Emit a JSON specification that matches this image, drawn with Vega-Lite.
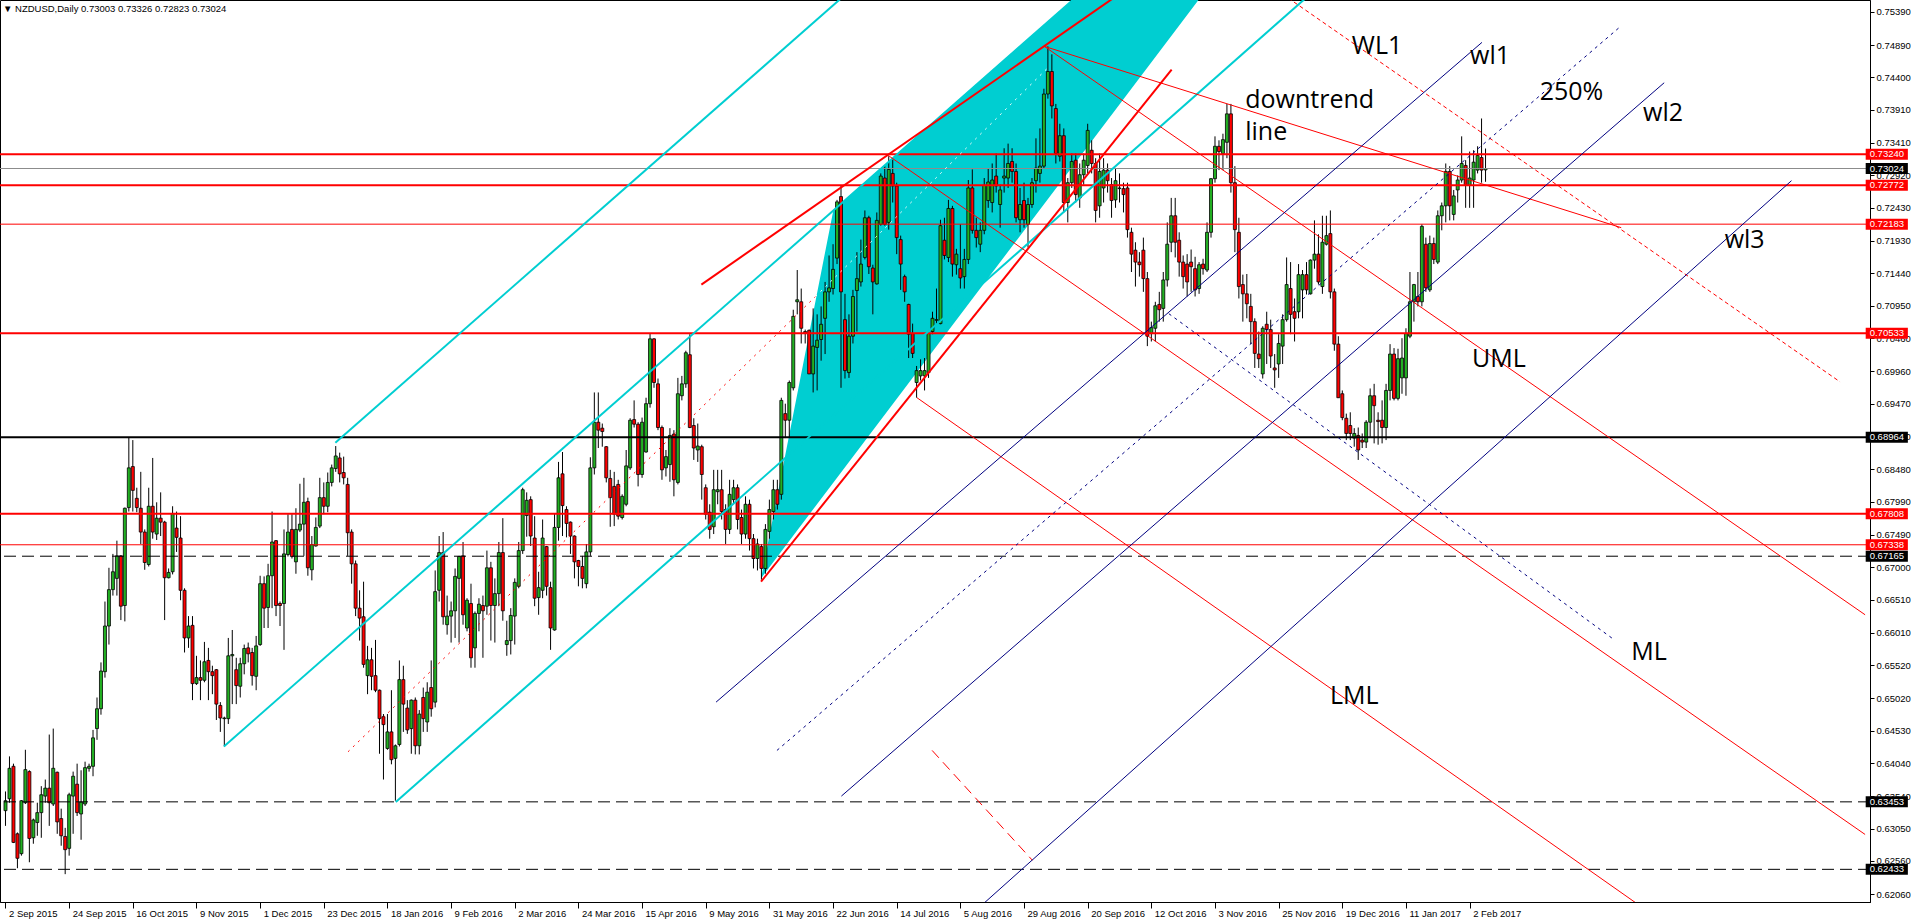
{
  "$schema": "https://vega.github.io/schema/vega-lite/v6.json",
  "width": 1870,
  "height": 902,
  "autosize": {"type": "none"},
  "padding": {"left": 0, "top": 0, "right": 45, "bottom": 21},
  "background": "white",
  "title": {"text": "\u25bc NZDUSD,Daily  0.73003 0.73326 0.72823 0.73024", "anchor": "start", "orient": "top", "frame": "group", "offset": -13, "dx": 3, "fontSize": 9.5, "font": "Liberation Sans", "fontWeight": "normal", "color": "black"},
  "config": {
    "view": {"stroke": "black", "strokeWidth": 1},
    "axis": {"labelOverlap": false, "labelFlush": false, "grid": false, "labelFont": "Liberation Sans", "labelFontSize": 9.5, "labelColor": "black", "tickColor": "black", "domainColor": "black"}
  },
  "datasets": {
    "bars": [
      {"i":0,"o":0.6332,"h":0.6361,"l":0.6309,"c":0.6347},{"i":1,"o":0.6350,"h":0.6414,"l":0.6344,"c":0.6396},{"i":2,"o":0.6399,"h":0.6403,"l":0.6283,"c":0.6284},{"i":3,"o":0.6297,"h":0.6299,"l":0.6245,"c":0.6260},{"i":4,"o":0.6267,"h":0.6348,"l":0.6264,"c":0.6347},{"i":5,"o":0.6344,"h":0.6424,"l":0.6342,"c":0.6394},{"i":6,"o":0.6391,"h":0.6393,"l":0.6254,"c":0.6290},{"i":7,"o":0.6291,"h":0.6320,"l":0.6282,"c":0.6318},{"i":8,"o":0.6314,"h":0.6344,"l":0.6294,"c":0.6329},{"i":9,"o":0.6329,"h":0.6369,"l":0.6291,"c":0.6356},
      {"i":10,"o":0.6354,"h":0.6379,"l":0.6344,"c":0.6366},{"i":11,"o":0.6366,"h":0.6447,"l":0.6309,"c":0.6344},{"i":12,"o":0.6342,"h":0.6456,"l":0.6339,"c":0.6396},{"i":13,"o":0.6390,"h":0.6391,"l":0.6297,"c":0.6315},{"i":14,"o":0.6320,"h":0.6335,"l":0.6279,"c":0.6294},{"i":15,"o":0.6293,"h":0.6306,"l":0.6236,"c":0.6273},{"i":16,"o":0.6275,"h":0.6359,"l":0.6264,"c":0.6356},{"i":17,"o":0.6354,"h":0.6391,"l":0.6297,"c":0.6384},{"i":18,"o":0.6372,"h":0.6403,"l":0.6324,"c":0.6329},{"i":19,"o":0.6327,"h":0.6393,"l":0.6288,"c":0.6345},
      {"i":20,"o":0.6342,"h":0.6406,"l":0.6339,"c":0.6397},{"i":21,"o":0.6396,"h":0.6403,"l":0.6391,"c":0.6399},{"i":22,"o":0.6399,"h":0.6454,"l":0.6384,"c":0.6442},{"i":23,"o":0.6456,"h":0.6503,"l":0.6439,"c":0.6486},{"i":24,"o":0.6486,"h":0.6556,"l":0.6477,"c":0.6543},{"i":25,"o":0.6542,"h":0.6648,"l":0.6533,"c":0.6611},{"i":26,"o":0.6611,"h":0.6699,"l":0.6583,"c":0.6666},{"i":27,"o":0.6666,"h":0.6720,"l":0.6657,"c":0.6693},{"i":28,"o":0.6683,"h":0.6740,"l":0.6657,"c":0.6717},{"i":29,"o":0.6717,"h":0.6718,"l":0.6620,"c":0.6641},
      {"i":30,"o":0.6642,"h":0.6790,"l":0.6618,"c":0.6789},{"i":31,"o":0.6790,"h":0.6896,"l":0.6784,"c":0.6850},{"i":32,"o":0.6852,"h":0.6892,"l":0.6784,"c":0.6816},{"i":33,"o":0.6804,"h":0.6820,"l":0.6783,"c":0.6790},{"i":34,"o":0.6789,"h":0.6844,"l":0.6735,"c":0.6753},{"i":35,"o":0.6753,"h":0.6757,"l":0.6696,"c":0.6707},{"i":36,"o":0.6704,"h":0.6820,"l":0.6701,"c":0.6792},{"i":37,"o":0.6792,"h":0.6865,"l":0.6743,"c":0.6753},{"i":38,"o":0.6750,"h":0.6798,"l":0.6741,"c":0.6774},{"i":39,"o":0.6774,"h":0.6813,"l":0.6747,"c":0.6768},
      {"i":40,"o":0.6768,"h":0.6770,"l":0.6620,"c":0.6684},{"i":41,"o":0.6684,"h":0.6698,"l":0.6683,"c":0.6692},{"i":42,"o":0.6693,"h":0.6792,"l":0.6689,"c":0.6781},{"i":43,"o":0.6759,"h":0.6784,"l":0.6723,"c":0.6745},{"i":44,"o":0.6744,"h":0.6777,"l":0.6650,"c":0.6665},{"i":45,"o":0.6665,"h":0.6668,"l":0.6571,"c":0.6593},{"i":46,"o":0.6593,"h":0.6626,"l":0.6578,"c":0.6611},{"i":47,"o":0.6612,"h":0.6626,"l":0.6499,"c":0.6524},{"i":48,"o":0.6524,"h":0.6566,"l":0.6522,"c":0.6533},{"i":49,"o":0.6533,"h":0.6559,"l":0.6499,"c":0.6529},
      {"i":50,"o":0.6529,"h":0.6587,"l":0.6526,"c":0.6557},{"i":51,"o":0.6559,"h":0.6578,"l":0.6499,"c":0.6542},{"i":52,"o":0.6542,"h":0.6551,"l":0.6508,"c":0.6536},{"i":53,"o":0.6545,"h":0.6546,"l":0.6469,"c":0.6493},{"i":54,"o":0.6491,"h":0.6496,"l":0.6451,"c":0.6472},{"i":55,"o":0.6471,"h":0.6474,"l":0.6429,"c":0.6472},{"i":56,"o":0.6471,"h":0.6593,"l":0.6463,"c":0.6566},{"i":57,"o":0.6566,"h":0.6605,"l":0.6493,"c":0.6568},{"i":58,"o":0.6545,"h":0.6563,"l":0.6493,"c":0.6521},{"i":59,"o":0.6520,"h":0.6563,"l":0.6503,"c":0.6554},
      {"i":60,"o":0.6554,"h":0.6583,"l":0.6538,"c":0.6577},{"i":61,"o":0.6578,"h":0.6586,"l":0.6556,"c":0.6569},{"i":62,"o":0.6571,"h":0.6578,"l":0.6521,"c":0.6536},{"i":63,"o":0.6535,"h":0.6596,"l":0.6514,"c":0.6581},{"i":64,"o":0.6583,"h":0.6687,"l":0.6581,"c":0.6675},{"i":65,"o":0.6675,"h":0.6686,"l":0.6608,"c":0.6638},{"i":66,"o":0.6639,"h":0.6705,"l":0.6608,"c":0.6687},{"i":67,"o":0.6687,"h":0.6784,"l":0.6638,"c":0.6738},{"i":68,"o":0.6740,"h":0.6741,"l":0.6626,"c":0.6642},{"i":69,"o":0.6645,"h":0.6648,"l":0.6611,"c":0.6642},
      {"i":70,"o":0.6645,"h":0.6757,"l":0.6575,"c":0.6720},{"i":71,"o":0.6719,"h":0.6780,"l":0.6716,"c":0.6753},{"i":72,"o":0.6757,"h":0.6780,"l":0.6713,"c":0.6716},{"i":73,"o":0.6708,"h":0.6789,"l":0.6690,"c":0.6757},{"i":74,"o":0.6756,"h":0.6826,"l":0.6753,"c":0.6765},{"i":75,"o":0.6765,"h":0.6835,"l":0.6717,"c":0.6798},{"i":76,"o":0.6799,"h":0.6805,"l":0.6687,"c":0.6699},{"i":77,"o":0.6696,"h":0.6747,"l":0.6680,"c":0.6734},{"i":78,"o":0.6732,"h":0.6775,"l":0.6731,"c":0.6760},{"i":79,"o":0.6762,"h":0.6835,"l":0.6759,"c":0.6805},
      {"i":80,"o":0.6805,"h":0.6828,"l":0.6780,"c":0.6792},{"i":81,"o":0.6792,"h":0.6843,"l":0.6783,"c":0.6828},{"i":82,"o":0.6828,"h":0.6855,"l":0.6822,"c":0.6850},{"i":83,"o":0.6849,"h":0.6883,"l":0.6844,"c":0.6868},{"i":84,"o":0.6865,"h":0.6873,"l":0.6828,"c":0.6841},{"i":85,"o":0.6843,"h":0.6867,"l":0.6825,"c":0.6835},{"i":86,"o":0.6825,"h":0.6835,"l":0.6717,"c":0.6752},{"i":87,"o":0.6753,"h":0.6757,"l":0.6675,"c":0.6705},{"i":88,"o":0.6705,"h":0.6710,"l":0.6626,"c":0.6638},{"i":89,"o":0.6638,"h":0.6665,"l":0.6589,"c":0.6623},
      {"i":90,"o":0.6625,"h":0.6678,"l":0.6548,"c":0.6553},{"i":91,"o":0.6536,"h":0.6581,"l":0.6508,"c":0.6560},{"i":92,"o":0.6560,"h":0.6578,"l":0.6514,"c":0.6535},{"i":93,"o":0.6536,"h":0.6590,"l":0.6511,"c":0.6514},{"i":94,"o":0.6514,"h":0.6515,"l":0.6418,"c":0.6471},{"i":95,"o":0.6474,"h":0.6478,"l":0.6379,"c":0.6462},{"i":96,"o":0.6426,"h":0.6478,"l":0.6424,"c":0.6451},{"i":97,"o":0.6451,"h":0.6514,"l":0.6402,"c":0.6409},{"i":98,"o":0.6411,"h":0.6432,"l":0.6347,"c":0.6430},{"i":99,"o":0.6432,"h":0.6559,"l":0.6429,"c":0.6530},
      {"i":100,"o":0.6530,"h":0.6551,"l":0.6451,"c":0.6493},{"i":101,"o":0.6487,"h":0.6499,"l":0.6448,"c":0.6454},{"i":102,"o":0.6456,"h":0.6500,"l":0.6418,"c":0.6499},{"i":103,"o":0.6499,"h":0.6503,"l":0.6417,"c":0.6430},{"i":104,"o":0.6430,"h":0.6484,"l":0.6417,"c":0.6478},{"i":105,"o":0.6503,"h":0.6518,"l":0.6451,"c":0.6471},{"i":106,"o":0.6466,"h":0.6526,"l":0.6451,"c":0.6511},{"i":107,"o":0.6518,"h":0.6559,"l":0.6474,"c":0.6486},{"i":108,"o":0.6496,"h":0.6695,"l":0.6488,"c":0.6663},{"i":109,"o":0.6665,"h":0.6747,"l":0.6648,"c":0.6722},
      {"i":110,"o":0.6722,"h":0.6753,"l":0.6613,"c":0.6625},{"i":111,"o":0.6613,"h":0.6657,"l":0.6598,"c":0.6626},{"i":112,"o":0.6626,"h":0.6648,"l":0.6586,"c":0.6634},{"i":113,"o":0.6634,"h":0.6698,"l":0.6593,"c":0.6686},{"i":114,"o":0.6683,"h":0.6717,"l":0.6586,"c":0.6716},{"i":115,"o":0.6717,"h":0.6738,"l":0.6613,"c":0.6628},{"i":116,"o":0.6608,"h":0.6653,"l":0.6603,"c":0.6650},{"i":117,"o":0.6645,"h":0.6675,"l":0.6548,"c":0.6563},{"i":118,"o":0.6578,"h":0.6633,"l":0.6548,"c":0.6630},{"i":119,"o":0.6630,"h":0.6653,"l":0.6603,"c":0.6644},
      {"i":120,"o":0.6642,"h":0.6657,"l":0.6563,"c":0.6634},{"i":121,"o":0.6641,"h":0.6725,"l":0.6628,"c":0.6699},{"i":122,"o":0.6699,"h":0.6708,"l":0.6589,"c":0.6642},{"i":123,"o":0.6642,"h":0.6683,"l":0.6586,"c":0.6660},{"i":124,"o":0.6660,"h":0.6738,"l":0.6641,"c":0.6722},{"i":125,"o":0.6722,"h":0.6774,"l":0.6619,"c":0.6634},{"i":126,"o":0.6583,"h":0.6619,"l":0.6566,"c":0.6589},{"i":127,"o":0.6589,"h":0.6638,"l":0.6568,"c":0.6627},{"i":128,"o":0.6626,"h":0.6683,"l":0.6583,"c":0.6677},{"i":129,"o":0.6671,"h":0.6738,"l":0.6668,"c":0.6725},
      {"i":130,"o":0.6725,"h":0.6820,"l":0.6720,"c":0.6817},{"i":131,"o":0.6778,"h":0.6813,"l":0.6746,"c":0.6801},{"i":132,"o":0.6802,"h":0.6807,"l":0.6732,"c":0.6747},{"i":133,"o":0.6744,"h":0.6777,"l":0.6641,"c":0.6653},{"i":134,"o":0.6654,"h":0.6693,"l":0.6628,"c":0.6669},{"i":135,"o":0.6665,"h":0.6772,"l":0.6653,"c":0.6744},{"i":136,"o":0.6731,"h":0.6732,"l":0.6657,"c":0.6671},{"i":137,"o":0.6669,"h":0.6678,"l":0.6575,"c":0.6608},{"i":138,"o":0.6605,"h":0.6781,"l":0.6604,"c":0.6760},{"i":139,"o":0.6760,"h":0.6859,"l":0.6740,"c":0.6835},
      {"i":140,"o":0.6841,"h":0.6874,"l":0.6747,"c":0.6793},{"i":141,"o":0.6787,"h":0.6792,"l":0.6745,"c":0.6766},{"i":142,"o":0.6768,"h":0.6769,"l":0.6720,"c":0.6747},{"i":143,"o":0.6747,"h":0.6748,"l":0.6683,"c":0.6708},{"i":144,"o":0.6710,"h":0.6711,"l":0.6671,"c":0.6701},{"i":145,"o":0.6701,"h":0.6717,"l":0.6668,"c":0.6683},{"i":146,"o":0.6675,"h":0.6735,"l":0.6668,"c":0.6723},{"i":147,"o":0.6723,"h":0.6866,"l":0.6717,"c":0.6850},{"i":148,"o":0.6850,"h":0.6964,"l":0.6840,"c":0.6919},{"i":149,"o":0.6919,"h":0.6964,"l":0.6880,"c":0.6907},
      {"i":150,"o":0.6910,"h":0.6917,"l":0.6882,"c":0.6905},{"i":151,"o":0.6882,"h":0.6883,"l":0.6828,"c":0.6835},{"i":152,"o":0.6834,"h":0.6847,"l":0.6761,"c":0.6805},{"i":153,"o":0.6822,"h":0.6844,"l":0.6762,"c":0.6780},{"i":154,"o":0.6825,"h":0.6832,"l":0.6772,"c":0.6777},{"i":155,"o":0.6775,"h":0.6810,"l":0.6772,"c":0.6807},{"i":156,"o":0.6795,"h":0.6877,"l":0.6792,"c":0.6853},{"i":157,"o":0.6850,"h":0.6925,"l":0.6847,"c":0.6922},{"i":158,"o":0.6923,"h":0.6952,"l":0.6911,"c":0.6916},{"i":159,"o":0.6916,"h":0.6919,"l":0.6822,"c":0.6840},
      {"i":160,"o":0.6840,"h":0.6926,"l":0.6835,"c":0.6919},{"i":161,"o":0.6874,"h":0.6956,"l":0.6873,"c":0.6947},{"i":162,"o":0.6947,"h":0.7053,"l":0.6941,"c":0.7045},{"i":163,"o":0.7045,"h":0.7046,"l":0.6971,"c":0.6979},{"i":164,"o":0.6977,"h":0.6985,"l":0.6907,"c":0.6911},{"i":165,"o":0.6911,"h":0.6914,"l":0.6832,"c":0.6847},{"i":166,"o":0.6850,"h":0.6877,"l":0.6837,"c":0.6867},{"i":167,"o":0.6855,"h":0.6910,"l":0.6829,"c":0.6899},{"i":168,"o":0.6901,"h":0.6907,"l":0.6807,"c":0.6832},{"i":169,"o":0.6828,"h":0.6986,"l":0.6825,"c":0.6962},
      {"i":170,"o":0.6959,"h":0.6989,"l":0.6952,"c":0.6977},{"i":171,"o":0.6977,"h":0.7027,"l":0.6971,"c":0.7024},{"i":172,"o":0.7021,"h":0.7052,"l":0.6910,"c":0.6911},{"i":173,"o":0.6914,"h":0.6925,"l":0.6862,"c":0.6880},{"i":174,"o":0.6877,"h":0.6917,"l":0.6859,"c":0.6883},{"i":175,"o":0.6882,"h":0.6885,"l":0.6802,"c":0.6840},{"i":176,"o":0.6820,"h":0.6825,"l":0.6772,"c":0.6780},{"i":177,"o":0.6783,"h":0.6795,"l":0.6743,"c":0.6757},{"i":178,"o":0.6761,"h":0.6847,"l":0.6750,"c":0.6817},{"i":179,"o":0.6814,"h":0.6847,"l":0.6795,"c":0.6817},
      {"i":180,"o":0.6817,"h":0.6847,"l":0.6772,"c":0.6784},{"i":181,"o":0.6787,"h":0.6795,"l":0.6735,"c":0.6757},{"i":182,"o":0.6757,"h":0.6832,"l":0.6750,"c":0.6810},{"i":183,"o":0.6802,"h":0.6832,"l":0.6795,"c":0.6820},{"i":184,"o":0.6820,"h":0.6825,"l":0.6757,"c":0.6772},{"i":185,"o":0.6775,"h":0.6787,"l":0.6735,"c":0.6750},{"i":186,"o":0.6750,"h":0.6807,"l":0.6743,"c":0.6795},{"i":187,"o":0.6795,"h":0.6802,"l":0.6725,"c":0.6743},{"i":188,"o":0.6743,"h":0.6750,"l":0.6698,"c":0.6713},{"i":189,"o":0.6713,"h":0.6743,"l":0.6695,"c":0.6735},
      {"i":190,"o":0.6731,"h":0.6735,"l":0.6681,"c":0.6698},{"i":191,"o":0.6698,"h":0.6765,"l":0.6690,"c":0.6757},{"i":192,"o":0.6754,"h":0.6802,"l":0.6743,"c":0.6787},{"i":193,"o":0.6784,"h":0.6832,"l":0.6772,"c":0.6817},{"i":194,"o":0.6817,"h":0.6832,"l":0.6787,"c":0.6795},{"i":195,"o":0.6810,"h":0.6956,"l":0.6802,"c":0.6952},{"i":196,"o":0.6932,"h":0.6947,"l":0.6895,"c":0.6922},{"i":197,"o":0.6922,"h":0.6982,"l":0.6895,"c":0.6979},{"i":198,"o":0.6971,"h":0.7089,"l":0.6967,"c":0.7079},{"i":199,"o":0.7101,"h":0.7149,"l":0.7082,"c":0.7104},
      {"i":200,"o":0.7101,"h":0.7121,"l":0.7038,"c":0.7061},{"i":201,"o":0.7056,"h":0.7059,"l":0.7038,"c":0.7053},{"i":202,"o":0.7058,"h":0.7059,"l":0.6992,"c":0.6992},{"i":203,"o":0.6992,"h":0.7091,"l":0.6964,"c":0.7034},{"i":204,"o":0.7032,"h":0.7082,"l":0.6967,"c":0.7043},{"i":205,"o":0.7044,"h":0.7094,"l":0.7012,"c":0.7067},{"i":206,"o":0.7076,"h":0.7131,"l":0.7022,"c":0.7116},{"i":207,"o":0.7116,"h":0.7171,"l":0.7101,"c":0.7122},{"i":208,"o":0.7121,"h":0.7188,"l":0.7112,"c":0.7150},{"i":209,"o":0.7167,"h":0.7255,"l":0.7158,"c":0.7252},
      {"i":210,"o":0.7260,"h":0.7276,"l":0.6971,"c":0.7116},{"i":211,"o":0.7074,"h":0.7113,"l":0.6985,"c":0.6997},{"i":212,"o":0.6994,"h":0.7082,"l":0.6986,"c":0.7049},{"i":213,"o":0.7049,"h":0.7119,"l":0.7038,"c":0.7109},{"i":214,"o":0.7118,"h":0.7176,"l":0.7056,"c":0.7136},{"i":215,"o":0.7131,"h":0.7195,"l":0.7124,"c":0.7158},{"i":216,"o":0.7168,"h":0.7239,"l":0.7165,"c":0.7228},{"i":217,"o":0.7228,"h":0.7231,"l":0.7143,"c":0.7154},{"i":218,"o":0.7152,"h":0.7157,"l":0.7082,"c":0.7131},{"i":219,"o":0.7128,"h":0.7236,"l":0.7127,"c":0.7224},
      {"i":220,"o":0.7218,"h":0.7295,"l":0.7216,"c":0.7291},{"i":221,"o":0.7288,"h":0.7306,"l":0.7216,"c":0.7218},{"i":222,"o":0.7221,"h":0.7321,"l":0.7210,"c":0.7301},{"i":223,"o":0.7295,"h":0.7318,"l":0.7251,"c":0.7276},{"i":224,"o":0.7276,"h":0.7281,"l":0.7173,"c":0.7198},{"i":225,"o":0.7195,"h":0.7201,"l":0.7119,"c":0.7158},{"i":226,"o":0.7139,"h":0.7142,"l":0.7101,"c":0.7116},{"i":227,"o":0.7097,"h":0.7098,"l":0.7016,"c":0.7052},{"i":228,"o":0.7053,"h":0.7068,"l":0.7016,"c":0.7023},{"i":229,"o":0.6979,"h":0.7004,"l":0.6956,"c":0.6997},
      {"i":230,"o":0.6989,"h":0.7014,"l":0.6982,"c":0.6997},{"i":231,"o":0.6989,"h":0.7016,"l":0.6967,"c":0.6997},{"i":232,"o":0.6994,"h":0.7056,"l":0.6986,"c":0.7053},{"i":233,"o":0.7056,"h":0.7086,"l":0.7052,"c":0.7076},{"i":234,"o":0.7073,"h":0.7121,"l":0.7067,"c":0.7074},{"i":235,"o":0.7068,"h":0.7225,"l":0.7067,"c":0.7216},{"i":236,"o":0.7194,"h":0.7228,"l":0.7165,"c":0.7171},{"i":237,"o":0.7168,"h":0.7255,"l":0.7161,"c":0.7242},{"i":238,"o":0.7242,"h":0.7246,"l":0.7139,"c":0.7158},{"i":239,"o":0.7157,"h":0.7181,"l":0.7142,"c":0.7173},
      {"i":240,"o":0.7151,"h":0.7218,"l":0.7121,"c":0.7137},{"i":241,"o":0.7139,"h":0.7181,"l":0.7121,"c":0.7165},{"i":242,"o":0.7165,"h":0.7285,"l":0.7158,"c":0.7273},{"i":243,"o":0.7273,"h":0.7301,"l":0.7204,"c":0.7209},{"i":244,"o":0.7209,"h":0.7228,"l":0.7183,"c":0.7198},{"i":245,"o":0.7188,"h":0.7221,"l":0.7176,"c":0.7209},{"i":246,"o":0.7209,"h":0.7288,"l":0.7203,"c":0.7277},{"i":247,"o":0.7254,"h":0.7303,"l":0.7243,"c":0.7282},{"i":248,"o":0.7251,"h":0.7310,"l":0.7236,"c":0.7285},{"i":249,"o":0.7291,"h":0.7325,"l":0.7266,"c":0.7276},
      {"i":250,"o":0.7248,"h":0.7278,"l":0.7213,"c":0.7270},{"i":251,"o":0.7288,"h":0.7333,"l":0.7266,"c":0.7291},{"i":252,"o":0.7288,"h":0.7340,"l":0.7273,"c":0.7310},{"i":253,"o":0.7313,"h":0.7333,"l":0.7281,"c":0.7298},{"i":254,"o":0.7298,"h":0.7310,"l":0.7221,"c":0.7228},{"i":255,"o":0.7225,"h":0.7273,"l":0.7206,"c":0.7248},{"i":256,"o":0.7254,"h":0.7281,"l":0.7213,"c":0.7225},{"i":257,"o":0.7218,"h":0.7258,"l":0.7183,"c":0.7248},{"i":258,"o":0.7248,"h":0.7288,"l":0.7243,"c":0.7281},{"i":259,"o":0.7284,"h":0.7348,"l":0.7266,"c":0.7303},
      {"i":260,"o":0.7295,"h":0.7363,"l":0.7281,"c":0.7306},{"i":261,"o":0.7306,"h":0.7423,"l":0.7303,"c":0.7415},{"i":262,"o":0.7415,"h":0.7487,"l":0.7408,"c":0.7449},{"i":263,"o":0.7449,"h":0.7475,"l":0.7378,"c":0.7397},{"i":264,"o":0.7393,"h":0.7400,"l":0.7310,"c":0.7325},{"i":265,"o":0.7321,"h":0.7370,"l":0.7313,"c":0.7352},{"i":266,"o":0.7352,"h":0.7363,"l":0.7236,"c":0.7251},{"i":267,"o":0.7251,"h":0.7288,"l":0.7221,"c":0.7281},{"i":268,"o":0.7281,"h":0.7325,"l":0.7273,"c":0.7313},{"i":269,"o":0.7315,"h":0.7325,"l":0.7251,"c":0.7263},
      {"i":270,"o":0.7258,"h":0.7310,"l":0.7243,"c":0.7293},{"i":271,"o":0.7293,"h":0.7325,"l":0.7278,"c":0.7315},{"i":272,"o":0.7307,"h":0.7370,"l":0.7295,"c":0.7360},{"i":273,"o":0.7330,"h":0.7345,"l":0.7295,"c":0.7310},{"i":274,"o":0.7310,"h":0.7318,"l":0.7221,"c":0.7239},{"i":275,"o":0.7246,"h":0.7325,"l":0.7228,"c":0.7298},{"i":276,"o":0.7273,"h":0.7318,"l":0.7251,"c":0.7300},{"i":277,"o":0.7300,"h":0.7310,"l":0.7266,"c":0.7284},{"i":278,"o":0.7278,"h":0.7288,"l":0.7228,"c":0.7254},{"i":279,"o":0.7255,"h":0.7303,"l":0.7243,"c":0.7284},
      {"i":280,"o":0.7273,"h":0.7295,"l":0.7251,"c":0.7272},{"i":281,"o":0.7272,"h":0.7281,"l":0.7236,"c":0.7263},{"i":282,"o":0.7273,"h":0.7281,"l":0.7198,"c":0.7210},{"i":283,"o":0.7206,"h":0.7213,"l":0.7146,"c":0.7173},{"i":284,"o":0.7179,"h":0.7191,"l":0.7124,"c":0.7161},{"i":285,"o":0.7161,"h":0.7176,"l":0.7139,"c":0.7157},{"i":286,"o":0.7179,"h":0.7198,"l":0.7116,"c":0.7136},{"i":287,"o":0.7136,"h":0.7146,"l":0.7034,"c":0.7049},{"i":288,"o":0.7053,"h":0.7071,"l":0.7041,"c":0.7062},{"i":289,"o":0.7061,"h":0.7101,"l":0.7041,"c":0.7095},
      {"i":290,"o":0.7097,"h":0.7116,"l":0.7071,"c":0.7089},{"i":291,"o":0.7091,"h":0.7146,"l":0.7071,"c":0.7134},{"i":292,"o":0.7134,"h":0.7221,"l":0.7124,"c":0.7188},{"i":293,"o":0.7191,"h":0.7258,"l":0.7176,"c":0.7231},{"i":294,"o":0.7231,"h":0.7258,"l":0.7168,"c":0.7191},{"i":295,"o":0.7194,"h":0.7206,"l":0.7139,"c":0.7161},{"i":296,"o":0.7161,"h":0.7171,"l":0.7121,"c":0.7139},{"i":297,"o":0.7158,"h":0.7173,"l":0.7109,"c":0.7131},{"i":298,"o":0.7161,"h":0.7180,"l":0.7116,"c":0.7154},{"i":299,"o":0.7151,"h":0.7169,"l":0.7109,"c":0.7119},
      {"i":300,"o":0.7121,"h":0.7161,"l":0.7113,"c":0.7157},{"i":301,"o":0.7158,"h":0.7166,"l":0.7142,"c":0.7151},{"i":302,"o":0.7149,"h":0.7221,"l":0.7146,"c":0.7206},{"i":303,"o":0.7206,"h":0.7288,"l":0.7198,"c":0.7287},{"i":304,"o":0.7287,"h":0.7351,"l":0.7281,"c":0.7336},{"i":305,"o":0.7336,"h":0.7345,"l":0.7300,"c":0.7328},{"i":306,"o":0.7325,"h":0.7355,"l":0.7300,"c":0.7346},{"i":307,"o":0.7342,"h":0.7400,"l":0.7318,"c":0.7385},{"i":308,"o":0.7385,"h":0.7400,"l":0.7266,"c":0.7281},{"i":309,"o":0.7281,"h":0.7306,"l":0.7176,"c":0.7210},
      {"i":310,"o":0.7206,"h":0.7228,"l":0.7106,"c":0.7124},{"i":311,"o":0.7127,"h":0.7142,"l":0.7071,"c":0.7113},{"i":312,"o":0.7113,"h":0.7143,"l":0.7076,"c":0.7098},{"i":313,"o":0.7094,"h":0.7113,"l":0.7037,"c":0.7071},{"i":314,"o":0.7071,"h":0.7076,"l":0.7001,"c":0.7023},{"i":315,"o":0.7022,"h":0.7056,"l":0.7001,"c":0.7015},{"i":316,"o":0.6992,"h":0.7064,"l":0.6985,"c":0.7061},{"i":317,"o":0.7067,"h":0.7086,"l":0.7007,"c":0.7059},{"i":318,"o":0.7059,"h":0.7074,"l":0.7001,"c":0.7019},{"i":319,"o":0.7001,"h":0.7022,"l":0.6971,"c":0.6998},
      {"i":320,"o":0.7007,"h":0.7052,"l":0.6986,"c":0.7038},{"i":321,"o":0.7034,"h":0.7082,"l":0.7007,"c":0.7074},{"i":322,"o":0.7074,"h":0.7168,"l":0.7071,"c":0.7127},{"i":323,"o":0.7121,"h":0.7161,"l":0.7052,"c":0.7082},{"i":324,"o":0.7086,"h":0.7106,"l":0.7041,"c":0.7076},{"i":325,"o":0.7086,"h":0.7158,"l":0.7076,"c":0.7142},{"i":326,"o":0.7119,"h":0.7149,"l":0.7076,"c":0.7142},{"i":327,"o":0.7142,"h":0.7161,"l":0.7112,"c":0.7119},{"i":328,"o":0.7113,"h":0.7165,"l":0.7112,"c":0.7164},{"i":329,"o":0.7164,"h":0.7224,"l":0.7151,"c":0.7173},
      {"i":330,"o":0.7173,"h":0.7203,"l":0.7127,"c":0.7131},{"i":331,"o":0.7124,"h":0.7231,"l":0.7113,"c":0.7191},{"i":332,"o":0.7188,"h":0.7231,"l":0.7186,"c":0.7201},{"i":333,"o":0.7204,"h":0.7239,"l":0.7106,"c":0.7116},{"i":334,"o":0.7116,"h":0.7121,"l":0.7027,"c":0.7037},{"i":335,"o":0.7037,"h":0.7049,"l":0.6956,"c":0.6956},{"i":336,"o":0.6962,"h":0.6967,"l":0.6922,"c":0.6926},{"i":337,"o":0.6925,"h":0.6932,"l":0.6892,"c":0.6902},{"i":338,"o":0.6914,"h":0.6934,"l":0.6892,"c":0.6902},{"i":339,"o":0.6895,"h":0.6910,"l":0.6882,"c":0.6902},
      {"i":340,"o":0.6899,"h":0.6911,"l":0.6862,"c":0.6877},{"i":341,"o":0.6892,"h":0.6902,"l":0.6880,"c":0.6889},{"i":342,"o":0.6889,"h":0.6922,"l":0.6880,"c":0.6919},{"i":343,"o":0.6919,"h":0.6970,"l":0.6896,"c":0.6959},{"i":344,"o":0.6959,"h":0.6977,"l":0.6887,"c":0.6944},{"i":345,"o":0.6922,"h":0.6934,"l":0.6885,"c":0.6920},{"i":346,"o":0.6922,"h":0.6952,"l":0.6887,"c":0.6911},{"i":347,"o":0.6911,"h":0.6977,"l":0.6892,"c":0.6967},{"i":348,"o":0.6967,"h":0.7037,"l":0.6952,"c":0.7022},{"i":349,"o":0.7022,"h":0.7031,"l":0.6952,"c":0.6955},
      {"i":350,"o":0.6955,"h":0.7030,"l":0.6952,"c":0.7015},{"i":351,"o":0.6986,"h":0.7046,"l":0.6962,"c":0.7016},{"i":352,"o":0.6986,"h":0.7061,"l":0.6959,"c":0.7053},{"i":353,"o":0.7049,"h":0.7146,"l":0.7046,"c":0.7101},{"i":354,"o":0.7101,"h":0.7128,"l":0.7071,"c":0.7127},{"i":355,"o":0.7109,"h":0.7146,"l":0.7094,"c":0.7101},{"i":356,"o":0.7101,"h":0.7218,"l":0.7094,"c":0.7215},{"i":357,"o":0.7188,"h":0.7198,"l":0.7116,"c":0.7122},{"i":358,"o":0.7119,"h":0.7201,"l":0.7116,"c":0.7189},{"i":359,"o":0.7189,"h":0.7198,"l":0.7158,"c":0.7165},
      {"i":360,"o":0.7161,"h":0.7239,"l":0.7158,"c":0.7231},{"i":361,"o":0.7231,"h":0.7251,"l":0.7209,"c":0.7246},{"i":362,"o":0.7246,"h":0.7310,"l":0.7221,"c":0.7298},{"i":363,"o":0.7298,"h":0.7306,"l":0.7224,"c":0.7246},{"i":364,"o":0.7233,"h":0.7270,"l":0.7224,"c":0.7261},{"i":365,"o":0.7270,"h":0.7292,"l":0.7251,"c":0.7285},{"i":366,"o":0.7285,"h":0.7351,"l":0.7281,"c":0.7310},{"i":367,"o":0.7307,"h":0.7315,"l":0.7243,"c":0.7277},{"i":368,"o":0.7277,"h":0.7328,"l":0.7243,"c":0.7288},{"i":369,"o":0.7285,"h":0.7330,"l":0.7243,"c":0.7312},
      {"i":370,"o":0.7300,"h":0.7336,"l":0.7295,"c":0.7322},{"i":371,"o":0.7319,"h":0.7378,"l":0.7281,"c":0.7300},{"i":372,"o":0.73003,"h":0.73326,"l":0.72823,"c":0.73024}
    ],
    "fill": [
      {"a":189.9,"top":0.6683,"bot":0.6683},
      {"a":208.1,"top":0.7240,"bot":0.6828},
      {"a":362.9,"top":0.8058,"bot":0.8058}
    ],
    "thickred": [{"v":0.7324},{"v":0.72772},{"v":0.70533},{"v":0.67808}],
    "thinred": [{"v":0.72183},{"v":0.67338}],
    "bid": [{"v":0.73024}],
    "blackline": [{"v":0.68964}],
    "dashed": [{"v":0.67165},{"v":0.63453},{"v":0.62433}],
    "tags": [
      {"v":0.7324,"k":"red"},{"v":0.73024,"k":"black"},{"v":0.72772,"k":"red"},{"v":0.72183,"k":"red"},
      {"v":0.70533,"k":"red"},{"v":0.68964,"k":"black"},{"v":0.67808,"k":"red"},{"v":0.67338,"k":"red"},
      {"v":0.67165,"k":"black"},{"v":0.63453,"k":"black"},{"v":0.62433,"k":"black"}
    ],
    "cyan": [
      {"a":82.9,"b":0.6888,"a2":240,"b2":0.7718},
      {"a":54.9,"b":0.6429,"a2":272.4,"b2":0.7579},
      {"a":98.1,"b":0.6345,"a2":330.4,"b2":0.7579}
    ],
    "redthick": [
      {"a":174.9,"b":0.7127,"a2":286.6,"b2":0.7594},
      {"a":189.9,"b":0.6678,"a2":293.1,"b2":0.7452}
    ],
    "redthin": [
      {"a":261.1,"b":0.7487,"a2":406.1,"b2":0.7213},
      {"a":261.1,"b":0.7487,"a2":467.4,"b2":0.6628},
      {"a":221.9,"b":0.7322,"a2":467.4,"b2":0.6296},
      {"a":229.1,"b":0.6956,"a2":424.6,"b2":0.6130}
    ],
    "reddash": [{"a":322.4,"b":0.7560,"a2":461.1,"b2":0.6980}],
    "redlong": [{"a":232.9,"b":0.6423,"a2":258.1,"b2":0.6257}],
    "reddot": [{"a":86.1,"b":0.6421,"a2":203.6,"b2":0.7109}],
    "whitedot": [{"a":203.6,"b":0.7109,"a2":262.4,"b2":0.7457}],
    "navy": [
      {"a":178.6,"b":0.6496,"a2":371.1,"b2":0.7493},
      {"a":210.1,"b":0.6354,"a2":416.9,"b2":0.7432},
      {"a":246.1,"b":0.6193,"a2":448.9,"b2":0.7284}
    ],
    "navydot": [
      {"a":193.9,"b":0.6423,"a2":406.1,"b2":0.7518},
      {"a":292.4,"b":0.7083,"a2":404.4,"b2":0.6590}
    ],
    "notes": [
      {"t":"WL1","a":338.4,"b":0.7487},
      {"t":"wl1","a":368.1,"b":0.7473},
      {"t":"250%","a":385.6,"b":0.7418},
      {"t":"wl2","a":411.6,"b":0.7387},
      {"t":"downtrend","a":311.6,"b":0.7406},
      {"t":"line","a":311.6,"b":0.7358},
      {"t":"wl3","a":432.1,"b":0.7194},
      {"t":"UML","a":368.6,"b":0.7015},
      {"t":"ML","a":408.6,"b":0.6571},
      {"t":"LML","a":332.9,"b":0.6506}
    ]
  },
  "layer": [
    {
      "data": {"name": "fill"},
      "mark": {"type": "area", "color": "#00CED1", "orient": "vertical", "clip": true},
      "encoding": {
        "x": {"field": "a", "type": "quantitative", "title": null, "scale": {"domain": [-0.125, 467.375], "nice": false, "zero": false}},
        "y": {"field": "top", "type": "quantitative", "title": null, "scale": {"domain": [0.62015, 0.75495], "nice": false, "zero": false}},
        "y2": {"field": "bot"}
      }
    },
    {
      "data": {"name": "bars"},
      "mark": {"type": "rule", "color": "black", "strokeWidth": 1, "clip": true},
      "encoding": {
        "x": {"field": "i", "type": "quantitative", "title": null, "scale": {"domain": [-0.125, 467.375], "nice": false, "zero": false},
          "axis": {"orient": "bottom", "title": null, "grid": false, "tickCount": 100, "values": [0,16,32,48,64,80,96,112,128,144,160,176,192,208,224,240,256,272,288,304,320,336,352,368],
            "labelExpr": "['2 Sep 2015','24 Sep 2015','16 Oct 2015','9 Nov 2015','1 Dec 2015','23 Dec 2015','18 Jan 2016','9 Feb 2016','2 Mar 2016','24 Mar 2016','15 Apr 2016','9 May 2016','31 May 2016','22 Jun 2016','14 Jul 2016','5 Aug 2016','29 Aug 2016','20 Sep 2016','12 Oct 2016','3 Nov 2016','25 Nov 2016','19 Dec 2016','11 Jan 2017','2 Feb 2017'][round(datum.value / 16)]",
            "labelAlign": "left", "labelBaseline": "top", "labelOffset": 3, "labelPadding": 0, "tickSize": 6, "labelOverlap": false, "labelFlush": false}},
        "y": {"field": "l", "type": "quantitative", "title": null, "scale": {"domain": [0.62015, 0.75495], "nice": false, "zero": false},
          "axis": {"orient": "right", "title": null, "grid": false, "tickCount": 100, "values": [0.7539,0.7489,0.744,0.7391,0.7341,0.7292,0.7243,0.7193,0.7144,0.7095,0.7046,0.6996,0.6947,0.6898,0.6848,0.6799,0.6749,0.67,0.6651,0.6601,0.6552,0.6502,0.6453,0.6404,0.6354,0.6305,0.6256,0.6206],
            "format": ".5f", "tickSize": 4, "labelPadding": 2, "labelOverlap": false, "labelFlush": false}},
        "y2": {"field": "h"}
      }
    },
    {
      "data": {"name": "bars"},
      "mark": {"type": "bar", "width": 3, "stroke": "black", "strokeWidth": 0.8, "clip": true},
      "encoding": {
        "x": {"field": "i", "type": "quantitative", "title": null, "scale": {"domain": [-0.125, 467.375], "nice": false, "zero": false}},
        "y": {"field": "o", "type": "quantitative", "title": null, "scale": {"domain": [0.62015, 0.75495], "nice": false, "zero": false}},
        "y2": {"field": "c"},
        "color": {"condition": {"test": "datum.c >= datum.o", "value": "#22b022"}, "value": "#ff0000"}
      }
    },
    {
      "data": {"name": "thickred"},
      "mark": {"type": "rule", "color": "#ff0000", "strokeWidth": 2},
      "encoding": {"y": {"field": "v", "type": "quantitative", "title": null, "scale": {"domain": [0.62015, 0.75495], "nice": false, "zero": false}}}
    },
    {
      "data": {"name": "thinred"},
      "mark": {"type": "rule", "color": "#ff0000", "strokeWidth": 1},
      "encoding": {"y": {"field": "v", "type": "quantitative", "title": null, "scale": {"domain": [0.62015, 0.75495], "nice": false, "zero": false}}}
    },
    {
      "data": {"name": "bid"},
      "mark": {"type": "rule", "color": "#8c8c8c", "strokeWidth": 1},
      "encoding": {"y": {"field": "v", "type": "quantitative", "title": null, "scale": {"domain": [0.62015, 0.75495], "nice": false, "zero": false}}}
    },
    {
      "data": {"name": "blackline"},
      "mark": {"type": "rule", "color": "black", "strokeWidth": 2},
      "encoding": {"y": {"field": "v", "type": "quantitative", "title": null, "scale": {"domain": [0.62015, 0.75495], "nice": false, "zero": false}}}
    },
    {
      "data": {"name": "dashed"},
      "mark": {"type": "rule", "color": "black", "strokeWidth": 1, "strokeDash": [12, 6]},
      "encoding": {"y": {"field": "v", "type": "quantitative", "title": null, "scale": {"domain": [0.62015, 0.75495], "nice": false, "zero": false}}}
    },
    {
      "data": {"name": "cyan"},
      "mark": {"type": "rule", "color": "#00CED1", "strokeWidth": 2, "clip": true},
      "encoding": {
        "x": {"field": "a", "type": "quantitative", "title": null, "scale": {"domain": [-0.125, 467.375], "nice": false, "zero": false}},
        "y": {"field": "b", "type": "quantitative", "title": null, "scale": {"domain": [0.62015, 0.75495], "nice": false, "zero": false}},
        "x2": {"field": "a2"}, "y2": {"field": "b2"}
      }
    },
    {
      "data": {"name": "reddot"},
      "mark": {"type": "rule", "color": "#ff0000", "strokeWidth": 1, "strokeDash": [2, 5], "clip": true},
      "encoding": {
        "x": {"field": "a", "type": "quantitative", "title": null, "scale": {"domain": [-0.125, 467.375], "nice": false, "zero": false}},
        "y": {"field": "b", "type": "quantitative", "title": null, "scale": {"domain": [0.62015, 0.75495], "nice": false, "zero": false}},
        "x2": {"field": "a2"}, "y2": {"field": "b2"}
      }
    },
    {
      "data": {"name": "whitedot"},
      "mark": {"type": "rule", "color": "white", "strokeWidth": 1, "strokeDash": [2, 5], "clip": true},
      "encoding": {
        "x": {"field": "a", "type": "quantitative", "title": null, "scale": {"domain": [-0.125, 467.375], "nice": false, "zero": false}},
        "y": {"field": "b", "type": "quantitative", "title": null, "scale": {"domain": [0.62015, 0.75495], "nice": false, "zero": false}},
        "x2": {"field": "a2"}, "y2": {"field": "b2"}
      }
    },
    {
      "data": {"name": "redthick"},
      "mark": {"type": "rule", "color": "#ff0000", "strokeWidth": 2, "clip": true},
      "encoding": {
        "x": {"field": "a", "type": "quantitative", "title": null, "scale": {"domain": [-0.125, 467.375], "nice": false, "zero": false}},
        "y": {"field": "b", "type": "quantitative", "title": null, "scale": {"domain": [0.62015, 0.75495], "nice": false, "zero": false}},
        "x2": {"field": "a2"}, "y2": {"field": "b2"}
      }
    },
    {
      "data": {"name": "redthin"},
      "mark": {"type": "rule", "color": "#ff0000", "strokeWidth": 1, "clip": true},
      "encoding": {
        "x": {"field": "a", "type": "quantitative", "title": null, "scale": {"domain": [-0.125, 467.375], "nice": false, "zero": false}},
        "y": {"field": "b", "type": "quantitative", "title": null, "scale": {"domain": [0.62015, 0.75495], "nice": false, "zero": false}},
        "x2": {"field": "a2"}, "y2": {"field": "b2"}
      }
    },
    {
      "data": {"name": "reddash"},
      "mark": {"type": "rule", "color": "#ff0000", "strokeWidth": 1, "strokeDash": [4, 3], "clip": true},
      "encoding": {
        "x": {"field": "a", "type": "quantitative", "title": null, "scale": {"domain": [-0.125, 467.375], "nice": false, "zero": false}},
        "y": {"field": "b", "type": "quantitative", "title": null, "scale": {"domain": [0.62015, 0.75495], "nice": false, "zero": false}},
        "x2": {"field": "a2"}, "y2": {"field": "b2"}
      }
    },
    {
      "data": {"name": "redlong"},
      "mark": {"type": "rule", "color": "#ff0000", "strokeWidth": 1, "strokeDash": [10, 6], "clip": true},
      "encoding": {
        "x": {"field": "a", "type": "quantitative", "title": null, "scale": {"domain": [-0.125, 467.375], "nice": false, "zero": false}},
        "y": {"field": "b", "type": "quantitative", "title": null, "scale": {"domain": [0.62015, 0.75495], "nice": false, "zero": false}},
        "x2": {"field": "a2"}, "y2": {"field": "b2"}
      }
    },
    {
      "data": {"name": "navy"},
      "mark": {"type": "rule", "color": "#000080", "strokeWidth": 1, "clip": true},
      "encoding": {
        "x": {"field": "a", "type": "quantitative", "title": null, "scale": {"domain": [-0.125, 467.375], "nice": false, "zero": false}},
        "y": {"field": "b", "type": "quantitative", "title": null, "scale": {"domain": [0.62015, 0.75495], "nice": false, "zero": false}},
        "x2": {"field": "a2"}, "y2": {"field": "b2"}
      }
    },
    {
      "data": {"name": "navydot"},
      "mark": {"type": "rule", "color": "#000080", "strokeWidth": 1, "strokeDash": [3, 4], "clip": true},
      "encoding": {
        "x": {"field": "a", "type": "quantitative", "title": null, "scale": {"domain": [-0.125, 467.375], "nice": false, "zero": false}},
        "y": {"field": "b", "type": "quantitative", "title": null, "scale": {"domain": [0.62015, 0.75495], "nice": false, "zero": false}},
        "x2": {"field": "a2"}, "y2": {"field": "b2"}
      }
    },
    {
      "data": {"name": "notes"},
      "mark": {"type": "text", "align": "left", "baseline": "middle", "font": "Open Sans", "fontSize": 25, "color": "black", "clip": true},
      "encoding": {
        "x": {"field": "a", "type": "quantitative", "title": null, "scale": {"domain": [-0.125, 467.375], "nice": false, "zero": false}},
        "y": {"field": "b", "type": "quantitative", "title": null, "scale": {"domain": [0.62015, 0.75495], "nice": false, "zero": false}},
        "text": {"field": "t"}
      }
    },
    {
      "data": {"name": "tags"},
      "mark": {"type": "bar", "height": 11, "clip": false},
      "encoding": {
        "x": {"datum": 467.55, "type": "quantitative", "title": null, "scale": {"domain": [-0.125, 467.375], "nice": false, "zero": false}},
        "x2": {"datum": 478.15},
        "y": {"field": "v", "type": "quantitative", "title": null, "scale": {"domain": [0.62015, 0.75495], "nice": false, "zero": false}},
        "color": {"field": "k", "type": "nominal", "scale": {"domain": ["red", "black"], "range": ["#ff0000", "#000000"]}, "legend": null}
      }
    },
    {
      "data": {"name": "tags"},
      "mark": {"type": "text", "align": "left", "baseline": "middle", "dx": 4, "font": "Liberation Sans", "fontSize": 9.5, "color": "white", "clip": false},
      "encoding": {
        "x": {"datum": 467.55, "type": "quantitative", "title": null, "scale": {"domain": [-0.125, 467.375], "nice": false, "zero": false}},
        "y": {"field": "v", "type": "quantitative", "title": null, "scale": {"domain": [0.62015, 0.75495], "nice": false, "zero": false}},
        "text": {"field": "v", "type": "quantitative", "format": ".5f"}
      }
    }
  ]
}
